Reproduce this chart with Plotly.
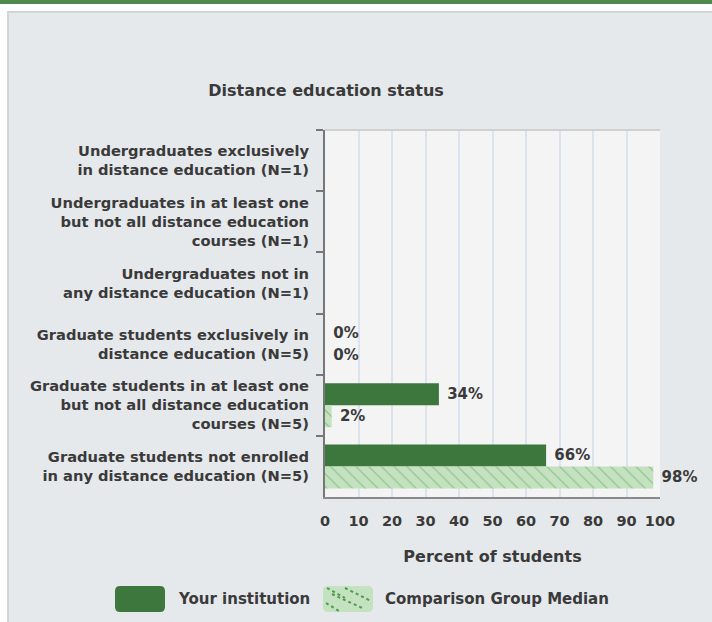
import plotly.graph_objects as go

# ---------------- data ----------------
categories = [
    "Undergraduates exclusively<br>in distance education (N=1)",
    "Undergraduates in at least one<br>but not all distance education<br>courses (N=1)",
    "Undergraduates not in<br>any distance education (N=1)",
    "Graduate students exclusively in<br>distance education (N=5)",
    "Graduate students in at least one<br>but not all distance education<br>courses (N=5)",
    "Graduate students not enrolled<br>in any distance education (N=5)",
]
your_institution = [None, None, None, 0, 34, 66]
comparison_median = [None, None, None, 0, 2, 98]
series_names = ["Your institution", "Comparison Group Median"]
x_ticks = [0, 10, 20, 30, 40, 50, 60, 70, 80, 90, 100]

# ---------------- geometry ----------------
W, H = 712, 622
L, R, T, B = 325, 660, 130, 497  # plot area in px
FONT = "DejaVu Sans"
TXT = "#3a3a3a"
WEIGHT = "bold"
DARK = "#3e773e"
LIGHT = "#c4e2bf"
PAT = "#4f9a4f"


def px_x(p):
    return (p - L) / (R - L)


def px_y(p):
    return (B - p) / (B - T)


def labels(vals):
    return ["" if v is None else f"\u00a0{v}%" for v in vals]


def f(size):
    return dict(family=FONT, size=size, color=TXT, weight=WEIGHT)


fig = go.Figure()
fig.add_trace(go.Bar(
    y=categories, x=your_institution, orientation="h", name=series_names[0],
    marker=dict(color=DARK, line=dict(width=0)),
    text=labels(your_institution), textposition="outside",
    textfont=f(15), cliponaxis=False, showlegend=False,
))
fig.add_trace(go.Bar(
    y=categories, x=comparison_median, orientation="h", name=series_names[1],
    marker=dict(color=LIGHT, line=dict(width=0),
                pattern=dict(shape="\\", fgcolor=PAT, size=9, solidity=0.12)),
    text=labels(comparison_median), textposition="outside",
    textfont=f(15), cliponaxis=False, showlegend=False,
))

shapes = []
# page decoration
shapes.append(dict(type="rect", xref="paper", yref="paper", x0=px_x(0), x1=px_x(W), y0=px_y(0), y1=px_y(11),
                   fillcolor="white", line=dict(width=0), layer="below"))
shapes.append(dict(type="rect", xref="paper", yref="paper", x0=px_x(0), x1=px_x(W), y0=px_y(0), y1=px_y(4),
                   fillcolor="#4e8a4e", line=dict(width=0), layer="below"))
shapes.append(dict(type="rect", xref="paper", yref="paper", x0=px_x(0), x1=px_x(7), y0=px_y(11), y1=px_y(H),
                   fillcolor="white", line=dict(width=0), layer="below"))
shapes.append(dict(type="rect", xref="paper", yref="paper", x0=px_x(7), x1=px_x(W), y0=px_y(11), y1=px_y(13),
                   fillcolor="#d2d4d6", line=dict(width=0), layer="below"))
shapes.append(dict(type="rect", xref="paper", yref="paper", x0=px_x(7), x1=px_x(9), y0=px_y(11), y1=px_y(H),
                   fillcolor="#d2d4d6", line=dict(width=0), layer="below"))
# plot top border
shapes.append(dict(type="line", xref="paper", yref="paper", x0=0, x1=1, y0=1, y1=1,
                   line=dict(color="#d0d0d0", width=2)))


def rounded(x0, y0, x1, y1, r=5):
    X0, X1 = px_x(x0), px_x(x1)
    Y0, Y1 = px_y(y0), px_y(y1)
    rx, ry = r / (R - L), r / (B - T)
    return (f"M{X0+rx},{Y0} L{X1-rx},{Y0} Q{X1},{Y0} {X1},{Y0-ry} L{X1},{Y1+ry} Q{X1},{Y1} {X1-rx},{Y1} "
            f"L{X0+rx},{Y1} Q{X0},{Y1} {X0},{Y1+ry} L{X0},{Y0-ry} Q{X0},{Y0} {X0+rx},{Y0} Z")


# custom legend
shapes.append(dict(type="path", xref="paper", yref="paper", path=rounded(115, 586, 165, 612),
                   fillcolor=DARK, line=dict(width=0)))
shapes.append(dict(type="path", xref="paper", yref="paper", path=rounded(323, 586, 373, 612),
                   fillcolor=LIGHT, line=dict(width=0)))
for (a, b, c, d) in [(327, 588, 345, 598), (332, 594, 362, 608), (345, 588, 371, 601), (326, 603, 339, 611)]:
    shapes.append(dict(type="line", xref="paper", yref="paper", x0=px_x(a), y0=px_y(b), x1=px_x(c), y1=px_y(d),
                       line=dict(color=PAT, width=2, dash="dot")))

annotations = [
    dict(text=series_names[0], xref="paper", yref="paper", x=px_x(176), y=px_y(599),
         xanchor="left", yanchor="middle", showarrow=False, font=f(15)),
    dict(text=series_names[1], xref="paper", yref="paper", x=px_x(383), y=px_y(599),
         xanchor="left", yanchor="middle", showarrow=False, font=f(15)),
]

fig.update_layout(
    width=W, height=H,
    margin=dict(l=L, r=W - R, t=T, b=H - B, pad=0),
    paper_bgcolor="#e6e9ec", plot_bgcolor="#f4f4f4",
    barmode="group", bargap=0.28, bargroupgap=0,
    title=dict(text="Distance education status", x=px_x(326), xref="paper", xanchor="center",
               y=1 - 90 / H, yref="container", yanchor="middle", font=f(16)),
    font=f(15),
    shapes=shapes, annotations=annotations,
    xaxis=dict(range=[0, 100], tickvals=x_ticks, showgrid=True, gridcolor="#dbe3ee", gridwidth=2,
               zeroline=False, showline=True, linecolor="#8a8a8a", linewidth=2, ticks="",
               ticklabelstandoff=10, tickfont=f(14.5),
               title=dict(text="Percent of students", standoff=22, font=f(16)),
               fixedrange=True),
    yaxis=dict(autorange="reversed", type="category", showgrid=False, zeroline=False,
               showline=True, linecolor="#777777", linewidth=2,
               ticks="outside", ticklen=7, tickcolor="#777777", tickwidth=2, tickson="boundaries",
               ticklabelstandoff=11, tickfont=f(14.7), fixedrange=True),
)

fig.write_html("out.html", config={"displayModeBar": False},
               post_script="document.body.style.margin='0px';")
